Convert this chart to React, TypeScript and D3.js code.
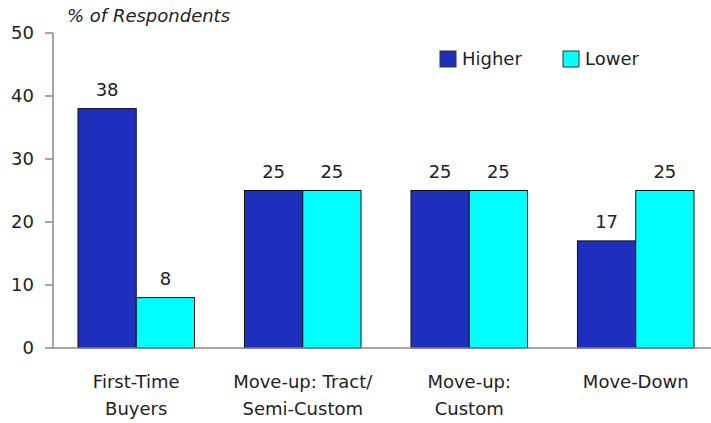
import React from "react";
import * as d3 from "d3";

const categories = [["First-Time", "Buyers"], ["Move-up: Tract/", "Semi-Custom"], ["Move-up:", "Custom"], ["Move-Down"]];
const seriesNames = ["Higher", "Lower"];
const higher = [38, 25, 25, 17];
const lower = [8, 25, 25, 25];
const yTicks = [0, 10, 20, 30, 40, 50];
const colors = ["#1f2fbd", "#00ffff"];

export default function App() {
  const W = 711, H = 423;
  const x = d3.scaleBand<number>().domain(d3.range(categories.length)).range([53, 719]).paddingInner(0.3).paddingOuter(0.15);
  const xs = d3.scaleBand<number>().domain([0, 1]).range([0, x.bandwidth()]);
  const y = d3.scaleLinear().domain([0, 50]).range([348, 33]);
  const font = "'DejaVu Sans', sans-serif";
  const series = [higher, lower];
  return (
    <svg width={W} height={H} style={{ position: "absolute", left: 0, top: 0 }} fontFamily={font}>
      <text x={67} y={22} fontSize={18} fontStyle="italic" fill="#222">% of Respondents</text>
      <line x1={53} x2={53} y1={y(50)} y2={y(0)} stroke="#888" strokeWidth={1.5} />
      {yTicks.map(t => (
        <g key={t}>
          <line x1={45} x2={53} y1={y(t)} y2={y(t)} stroke="#888" strokeWidth={1.5} />
          <text x={34} y={y(t)} dy="0.36em" textAnchor="end" fontSize={18} fill="#222">{t}</text>
        </g>
      ))}
      {series.map((vals, si) => vals.map((v, i) => {
        const bx = (x(i) as number) + (xs(si) as number);
        return (
          <g key={`${si}-${i}`}>
            <rect x={bx} y={y(v)} width={xs.bandwidth()} height={y(0) - y(v)} fill={colors[si]} stroke="#111" strokeWidth={1} />
            <text x={bx + xs.bandwidth() / 2} y={y(v) - 13} textAnchor="middle" fontSize={18} fill="#222">{v}</text>
          </g>
        );
      }))}
      <line x1={53} x2={W} y1={y(0)} y2={y(0)} stroke="#888" strokeWidth={1.5} />
      {categories.map((lines, i) => (
        <text key={i} x={(x(i) as number) + x.bandwidth() / 2} textAnchor="middle" fontSize={18} fill="#222">
          {lines.map((l, j) => <tspan key={j} x={(x(i) as number) + x.bandwidth() / 2} y={388 + j * 27}>{l}</tspan>)}
        </text>
      ))}
      {seriesNames.map((n, i) => (
        <g key={n} transform={`translate(${440 + i * 123},51)`}>
          <rect x={0} y={0} width={16} height={16} fill={colors[i]} stroke="#333" strokeWidth={1} />
          <text x={22} y={14} fontSize={18} fill="#222">{n}</text>
        </g>
      ))}
    </svg>
  );
}
